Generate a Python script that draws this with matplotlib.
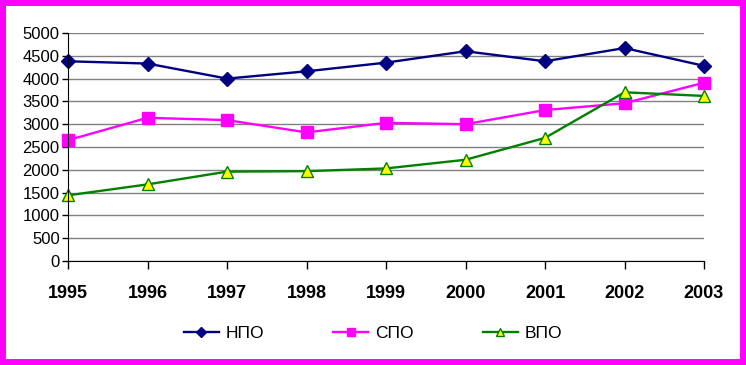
import matplotlib.pyplot as plt
from matplotlib.patches import Rectangle

plt.rcParams['font.family'] = ['Liberation Sans', 'DejaVu Sans']

years = [1995, 1996, 1997, 1998, 1999, 2000, 2001, 2002, 2003]
npo = [4380, 4330, 4000, 4160, 4350, 4600, 4380, 4670, 4280]
spo = [2650, 3140, 3090, 2820, 3030, 3000, 3310, 3460, 3910]
vpo = [1440, 1680, 1960, 1970, 2030, 2220, 2700, 3700, 3620]
yticks = list(range(0, 5001, 500))

fig = plt.figure(figsize=(7.46, 3.65), dpi=100)
ax = fig.add_axes([68 / 746, 1 - 261 / 365, (704 - 68) / 746, (261 - 33) / 365])

x = range(len(years))
ax.plot(x, npo, color='#000080', lw=1.7, marker='D', ms=7, mfc='#000080', mec='#000080', label='НПО')
ax.plot(x, spo, color='#ff00ff', lw=1.7, marker='s', ms=8, mfc='#ff00ff', mec='#ff00ff', label='СПО')
ax.plot(x, vpo, color='#008000', lw=1.7, marker='^', ms=8, mfc='#ffff00', mec='#008000', mew=1, label='ВПО')

ax.set_xlim(0, len(years) - 1)
ax.set_ylim(0, 5000)
ax.set_yticks(yticks)
ax.set_yticklabels([str(v) for v in yticks], fontsize=12)
ax.set_xticks(list(x))
ax.set_xticklabels([str(y) for y in years], fontsize=13, fontweight='bold')
ax.tick_params(axis='x', direction='out', length=6, width=1, pad=11)
ax.tick_params(axis='y', direction='out', length=4, width=1, pad=2)
ax.yaxis.grid(True, color='#808080', lw=1)
ax.set_axisbelow(True)
for s in ['top', 'right']:
    ax.spines[s].set_visible(False)
for s in ['left', 'bottom']:
    ax.spines[s].set_color('black')
for line in ax.lines:
    line.set_clip_on(False)

fig.legend(loc='center', bbox_to_anchor=(0.5, 1 - 333 / 365), ncol=3, frameon=False,
           fontsize=12.5, handlelength=2.0, columnspacing=4.0, handletextpad=0.4,
           markerscale=0.75)

# magenta frame around the whole picture
fig.patches.append(Rectangle((0, 0), 1, 1, transform=fig.transFigure, fill=False,
                             edgecolor='#ff00ff', lw=8.6))

fig.savefig('out.png', dpi=100)
